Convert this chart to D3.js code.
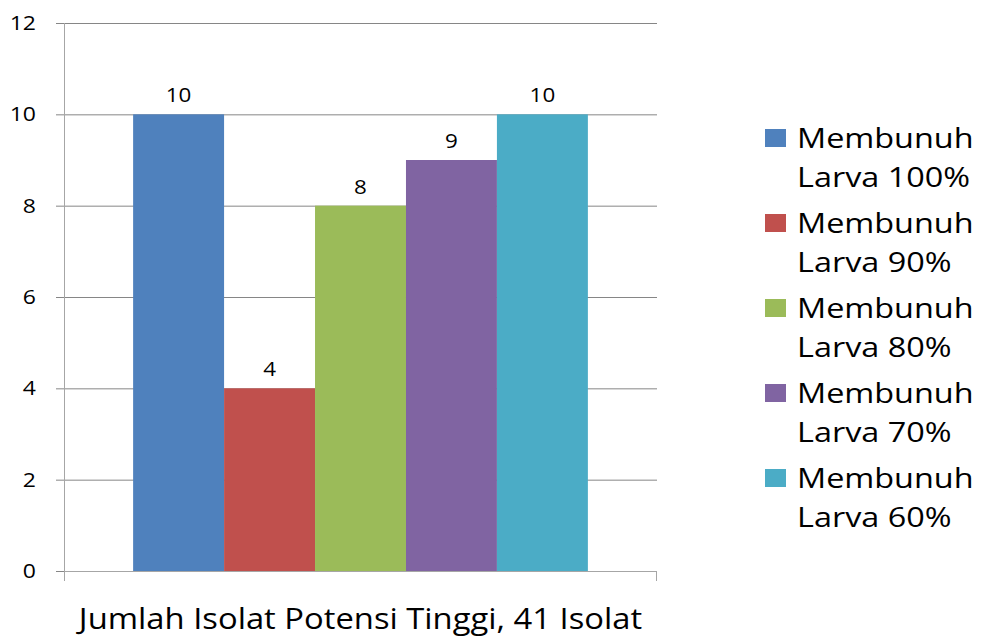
<!DOCTYPE html>
<html>
<head>
<meta charset="utf-8">
<script src="https://cdn.jsdelivr.net/npm/d3@7"></script>
<style>
  body { margin: 0; background: #fff; }
  text { font-family: "Open Sans", "DejaVu Sans", sans-serif; fill: #000; }
</style>
</head>
<body>
<div class="canvas"></div>
<script>
const categories = ["Jumlah Isolat Potensi Tinggi, 41 Isolat"];
const series = ["Membunuh Larva 100%", "Membunuh Larva 90%", "Membunuh Larva 80%", "Membunuh Larva 70%", "Membunuh Larva 60%"];
const values = [10, 4, 8, 9, 10];
const colors = ["#4F81BD", "#C0504D", "#9BBB59", "#8064A2", "#4BACC6"];
const yTicks = [0, 2, 4, 6, 8, 10, 12];

const width = 982;
const height = 640;
const margin = {top: 23, right: 325, bottom: 69, left: 64};
const graphWidth = width - margin.left - margin.right;
const graphHeight = height - margin.top - margin.bottom;

const svg = d3.select('.canvas')
  .append('svg')
  .attr('width', width)
  .attr('height', height);

const graph = svg.append('g')
  .attr('transform', `translate(${margin.left}, ${margin.top})`);

const y = d3.scaleLinear()
  .domain([0, 12])
  .range([graphHeight, 0]);

const x0 = d3.scaleBand()
  .domain(categories)
  .range([0, graphWidth])
  .paddingInner(0)
  .paddingOuter(0.152);

const x1 = d3.scaleBand()
  .domain(series)
  .range([0, x0.bandwidth()]);

// gridlines
graph.append('g')
  .selectAll('line')
  .data(yTicks)
  .enter()
  .append('line')
  .attr('x1', -8)
  .attr('x2', graphWidth)
  .attr('y1', d => y(d) + 0.5)
  .attr('y2', d => y(d) + 0.5)
  .attr('stroke', '#868686')
  .attr('stroke-width', 1);

// bars
const groups = graph.selectAll('.grp')
  .data(categories)
  .enter()
  .append('g')
  .attr('class', 'grp')
  .attr('transform', d => `translate(${x0(d)}, 0)`);

groups.selectAll('rect')
  .data(series.map((s, i) => ({s, v: values[i], c: colors[i]})))
  .enter()
  .append('rect')
  .attr('x', d => x1(d.s))
  .attr('width', x1.bandwidth())
  .attr('y', d => y(d.v))
  .attr('height', d => graphHeight - y(d.v))
  .attr('fill', d => d.c);

groups.selectAll('.val')
  .data(series.map((s, i) => ({s, v: values[i]})))
  .enter()
  .append('text')
  .attr('class', 'val')
  .attr('transform', d => `translate(${x1(d.s) + x1.bandwidth() / 2}, ${y(d.v) - 12}) scale(1.12, 1)`)
  .attr('text-anchor', 'middle')
  .style('font-size', '20px')
  .text(d => d.v);

// y axis labels
graph.append('g')
  .selectAll('text')
  .data(yTicks)
  .enter()
  .append('text')
  .attr('transform', d => `translate(-28, ${y(d) + 7}) scale(1.15, 1)`)
  .attr('text-anchor', 'end')
  .style('font-size', '20px')
  .text(d => d);

graph.append('line')
  .attr('x1', 0.5).attr('x2', 0.5)
  .attr('y1', 0).attr('y2', graphHeight + 10)
  .attr('stroke', '#A6A6A6');
graph.append('line')
  .attr('x1', 0).attr('x2', graphWidth)
  .attr('y1', graphHeight + 0.5).attr('y2', graphHeight + 0.5)
  .attr('stroke', '#A6A6A6');
graph.append('line')
  .attr('x1', graphWidth - 0.5).attr('x2', graphWidth - 0.5)
  .attr('y1', graphHeight).attr('y2', graphHeight + 10)
  .attr('stroke', '#A6A6A6');

graph.append('text')
  .attr('transform', `translate(${graphWidth / 2}, ${graphHeight + 58}) scale(1.13, 1)`)
  .attr('text-anchor', 'middle')
  .style('font-size', '29px')
  .text(categories[0]);

// legend
const legend = svg.append('g')
  .attr('transform', 'translate(765, 129)');

const item = legend.selectAll('.item')
  .data(series)
  .enter()
  .append('g')
  .attr('class', 'item')
  .attr('transform', (d, i) => `translate(0, ${i * 85})`);

item.append('rect')
  .attr('width', 21)
  .attr('height', 18)
  .attr('fill', (d, i) => colors[i]);

const lt = item.append('text')
  .attr('transform', 'translate(32, 19) scale(1.2, 1)')
  .style('font-size', '27px');
lt.append('tspan').attr('x', 0).text(d => d.split(' ')[0]);
lt.append('tspan').attr('x', 0).attr('dy', 39).text(d => d.split(' ').slice(1).join(' '));
</script>
</body>
</html>
